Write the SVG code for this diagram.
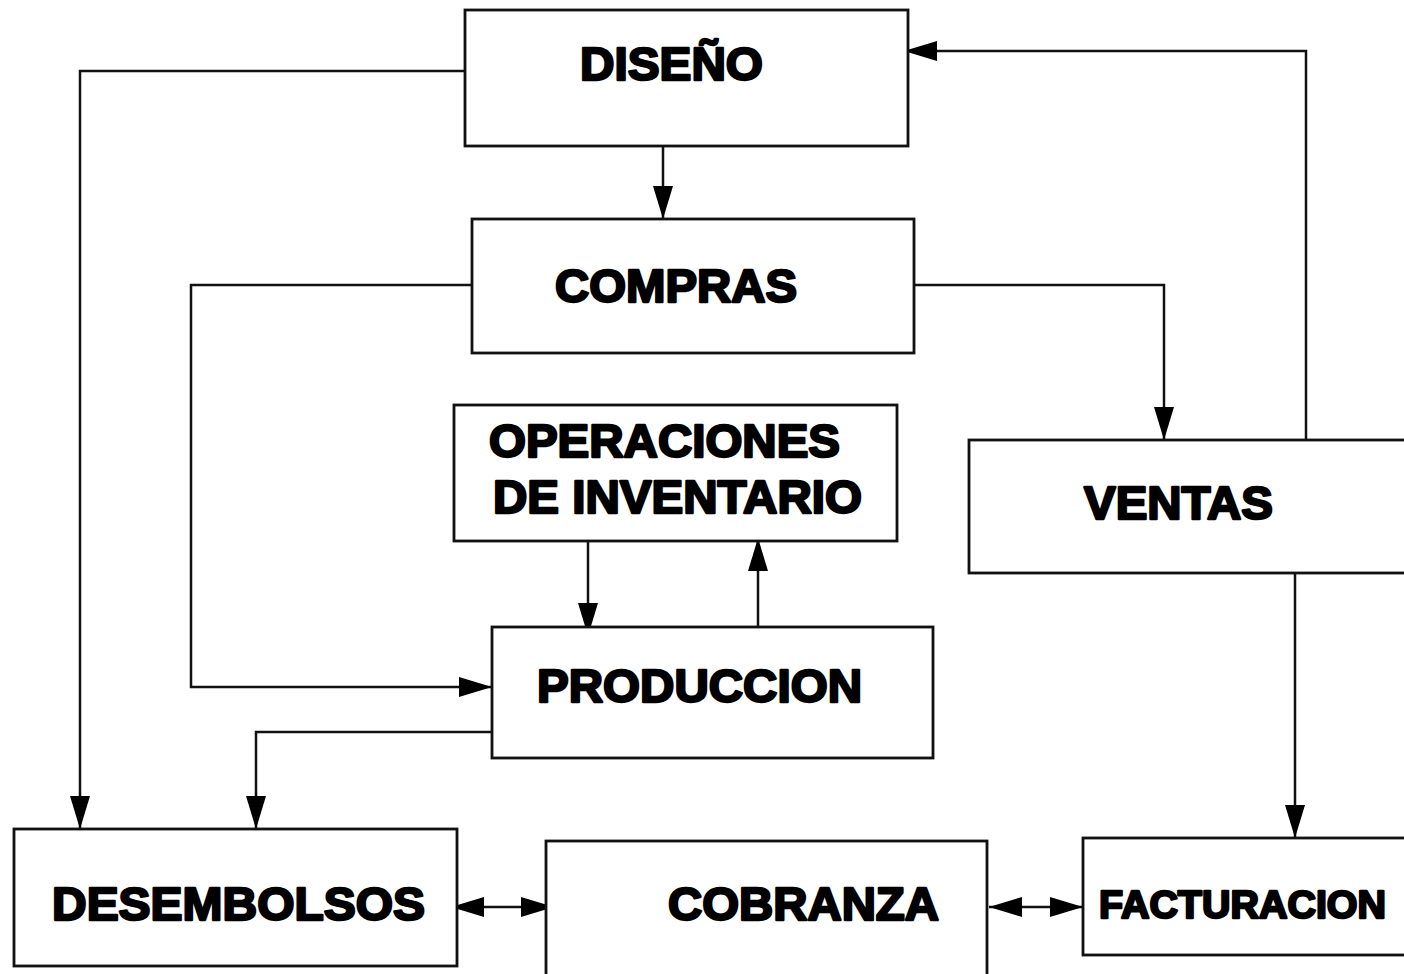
<svg xmlns="http://www.w3.org/2000/svg" width="1404" height="974" viewBox="0 0 1404 974">
<style>
.box{fill:#ffffff;stroke:#111;stroke-width:2.8}
.lbl{font-family:"Liberation Sans",Arial,sans-serif;font-weight:bold;font-size:47px;fill:#000;stroke:#000;stroke-width:2.4;stroke-linejoin:round}
.con{fill:none;stroke:#111;stroke-width:2.5}
.arr{marker-end:url(#ah)}
.dbl{marker-end:url(#ah);marker-start:url(#ah)}
</style>
<defs>
<marker id="ah" markerUnits="userSpaceOnUse" markerWidth="36" markerHeight="22" refX="33" refY="10" orient="auto-start-reverse">
<path d="M0,0 L33,10 L0,20 z" fill="#000"/>
</marker>
</defs>
<rect width="1404" height="974" fill="#ffffff"/>
<g id="connectors">
<path class="con arr" d="M663,146 V219"/>
<path class="con arr" d="M465,71 H80 V829"/>
<path class="con arr" d="M472,285 H191 V687 H492"/>
<path class="con arr" d="M914,285 H1164 V440"/>
<path class="con arr" d="M1306,440 V51 H904"/>
<path class="con arr" d="M1295,573 V838"/>
<path class="con arr" d="M588,541 V636"/>
<path class="con arr" d="M758,627 V538"/>
<path class="con arr" d="M492,732 H256 V829"/>
<path class="con dbl" d="M451,907 H554"/>
<path class="con dbl" d="M989,907 H1083"/>
</g>
<g id="diseno">
<rect class="box" x="465" y="10" width="443" height="136"/>
<text class="lbl" x="671.5" y="80" text-anchor="middle" textLength="183" lengthAdjust="spacingAndGlyphs">DISEÑO</text>
</g>
<g id="compras">
<rect class="box" x="472" y="219" width="442" height="134"/>
<text class="lbl" x="676" y="302" text-anchor="middle" textLength="242" lengthAdjust="spacingAndGlyphs">COMPRAS</text>
</g>
<g id="operaciones">
<rect class="box" x="454" y="405" width="443" height="136"/>
<text class="lbl" x="489" y="457" textLength="351" lengthAdjust="spacingAndGlyphs">OPERACIONES</text>
<text class="lbl" x="493" y="513" textLength="369" lengthAdjust="spacingAndGlyphs">DE INVENTARIO</text>
</g>
<g id="produccion">
<rect class="box" x="492" y="627" width="441" height="131"/>
<text class="lbl" x="537" y="702" textLength="325" lengthAdjust="spacingAndGlyphs">PRODUCCION</text>
</g>
<g id="ventas">
<rect class="box" x="969" y="440" width="445" height="133"/>
<text class="lbl" x="1084" y="519" textLength="189" lengthAdjust="spacingAndGlyphs">VENTAS</text>
</g>
<g id="desembolsos">
<rect class="box" x="14" y="829" width="443" height="137"/>
<text class="lbl" x="52" y="920" textLength="373" lengthAdjust="spacingAndGlyphs">DESEMBOLSOS</text>
</g>
<g id="cobranza">
<rect class="box" x="546" y="841" width="441" height="145"/>
<text class="lbl" x="668" y="920" textLength="271" lengthAdjust="spacingAndGlyphs">COBRANZA</text>
</g>
<g id="facturacion">
<rect class="box" x="1083" y="838" width="330" height="117"/>
<text class="lbl" x="1099" y="918" style="font-size:39px" textLength="287" lengthAdjust="spacingAndGlyphs">FACTURACION</text>
</g>
</svg>
